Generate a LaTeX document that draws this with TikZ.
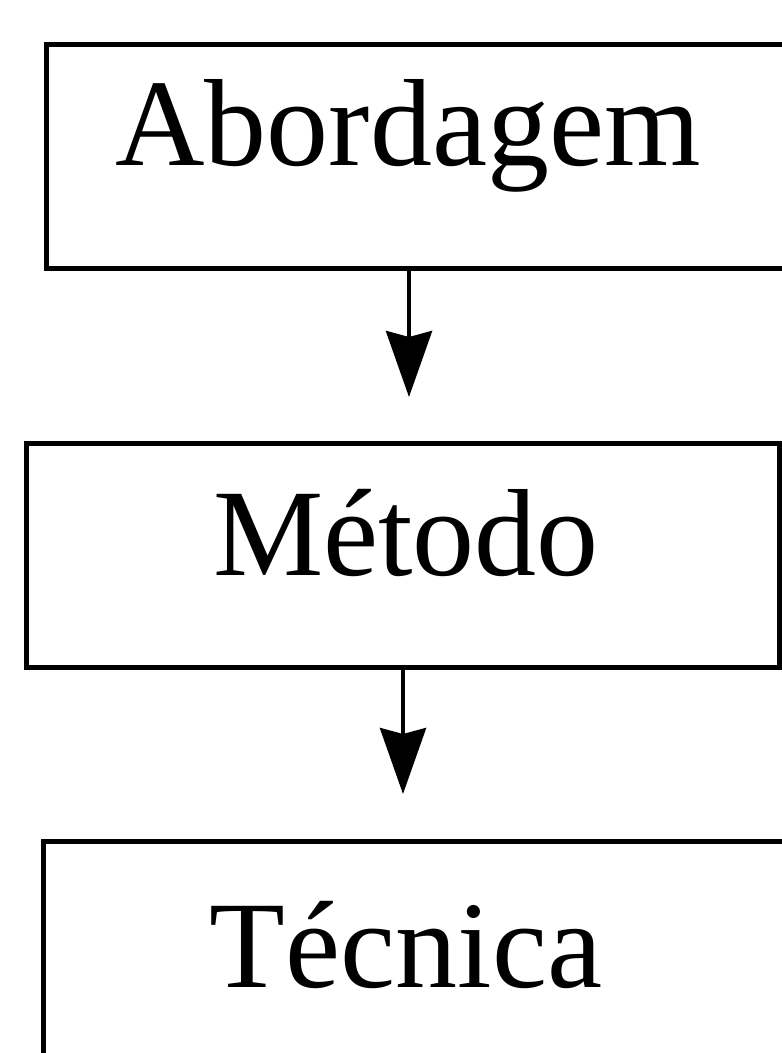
\documentclass[tikz,border=0pt]{standalone}
\usepackage{fontspec}
\setmainfont{Liberation Serif}
\usetikzlibrary{arrows.meta}
\begin{document}
\begin{tikzpicture}[x=1pt,y=-1pt,
  stage/.style={draw=black, line width=5pt, rectangle, inner sep=0pt},
  caption/.style={anchor=base, inner sep=0pt, font=\fontsize{124}{124}\selectfont},
  flow/.style={line width=4pt, -{Stealth[length=66pt,width=46pt,inset=6pt]}}]
  % page frame
  \useasboundingbox (0,0) rectangle (782,1053);
  \clip (0,0) rectangle (782,1053);
  \fill[white] (0,0) rectangle (782,1053);

  % the three stages
  \node[stage, minimum width=764pt, minimum height=224pt] (abordagem) at (428,156) {};
  \node[stage, minimum width=753pt, minimum height=224pt] (metodo) at (402.5,555) {};
  \node[stage, minimum width=767pt, minimum height=234pt] (tecnica) at (426.5,958) {};

  % stage labels
  \node[caption] (tabordagem) at (408,165) {Abordagem};
  \node[caption] (tmetodo) at (406,575) {Método};
  \node[caption] (ttecnica) at (406,987) {Técnica};

  % arrow ends
  \coordinate (end1) at (409,397);
  \coordinate (end2) at (403,794);

  \draw[flow] (abordagem.south -| end1) -- (end1);
  \draw[flow] (metodo.south -| end2) -- (end2);
\end{tikzpicture}
\end{document}
